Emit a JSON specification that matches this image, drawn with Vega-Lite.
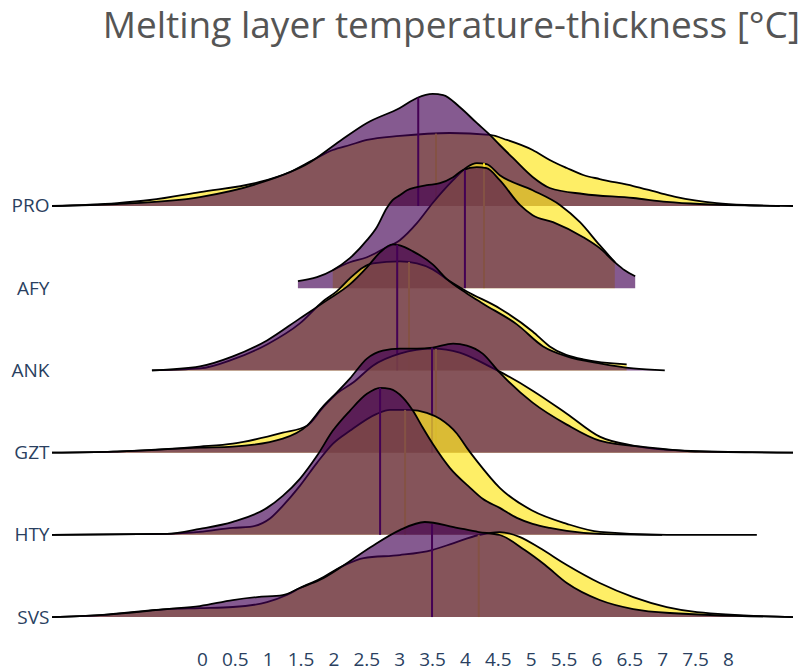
{
  "$schema": "https://vega.github.io/schema/vega-lite/v6.json",
  "width": 741,
  "height": 580,
  "autosize": {"type": "none"},
  "padding": {"left": 52, "top": 65, "right": 14, "bottom": 26},
  "background": "white",
  "title": {"text": "Melting layer temperature-thickness [°C]", "anchor": "end", "font": "Open Sans", "fontSize": 37, "fontWeight": "normal", "color": "#555555", "offset": 19, "dx": 7},
  "config": {"view": {"stroke": null}},
  "datasets": {
    "curves": [
      {"s":"PRO","g":"P","x":-2.28,"y":5},{"s":"PRO","g":"P","x":-1.29,"y":5.024},{"s":"PRO","g":"P","x":-0.03,"y":5.109},{"s":"PRO","g":"P","x":0.88,"y":5.28},{"s":"PRO","g":"P","x":1.64,"y":5.53},{"s":"PRO","g":"P","x":2.1,"y":5.791},{"s":"PRO","g":"P","x":2.51,"y":6.01},{"s":"PRO","g":"P","x":3.01,"y":6.192},{"s":"PRO","g":"P","x":3.27,"y":6.314},{"s":"PRO","g":"P","x":3.51,"y":6.363},{"s":"PRO","g":"P","x":3.67,"y":6.35},{"s":"PRO","g":"P","x":3.92,"y":6.204},{"s":"PRO","g":"P","x":4.18,"y":6.01},{"s":"PRO","g":"P","x":4.38,"y":5.864},{"s":"PRO","g":"P","x":4.53,"y":5.742},{"s":"PRO","g":"P","x":4.73,"y":5.584},{"s":"PRO","g":"P","x":5.03,"y":5.353},{"s":"PRO","g":"P","x":5.29,"y":5.219},{"s":"PRO","g":"P","x":5.8,"y":5.146},{"s":"PRO","g":"P","x":6.56,"y":5.097},{"s":"PRO","g":"P","x":7.07,"y":5.049},{"s":"PRO","g":"P","x":7.57,"y":5.024},{"s":"PRO","g":"P","x":8.99,"y":5},
      {"s":"PRO","g":"Y","x":-2.28,"y":5},{"s":"PRO","g":"Y","x":-1.29,"y":5.036},{"s":"PRO","g":"Y","x":-0.79,"y":5.073},{"s":"PRO","g":"Y","x":-0.03,"y":5.17},{"s":"PRO","g":"Y","x":0.88,"y":5.292},{"s":"PRO","g":"Y","x":1.34,"y":5.414},{"s":"PRO","g":"Y","x":1.69,"y":5.56},{"s":"PRO","g":"Y","x":1.99,"y":5.681},{"s":"PRO","g":"Y","x":2.25,"y":5.742},{"s":"PRO","g":"Y","x":2.51,"y":5.803},{"s":"PRO","g":"Y","x":3.01,"y":5.852},{"s":"PRO","g":"Y","x":3.77,"y":5.888},{"s":"PRO","g":"Y","x":4.38,"y":5.864},{"s":"PRO","g":"Y","x":4.64,"y":5.803},{"s":"PRO","g":"Y","x":5.03,"y":5.681},{"s":"PRO","g":"Y","x":5.29,"y":5.56},{"s":"PRO","g":"Y","x":5.55,"y":5.462},{"s":"PRO","g":"Y","x":5.8,"y":5.377},{"s":"PRO","g":"Y","x":6.05,"y":5.328},{"s":"PRO","g":"Y","x":6.56,"y":5.243},{"s":"PRO","g":"Y","x":6.97,"y":5.158},{"s":"PRO","g":"Y","x":7.22,"y":5.109},{"s":"PRO","g":"Y","x":7.83,"y":5.036},{"s":"PRO","g":"Y","x":8.26,"y":5.012},{"s":"PRO","g":"Y","x":8.79,"y":5},
      {"s":"AFY","g":"P","x":1.46,"y":4.085},{"s":"AFY","g":"P","x":1.75,"y":4.134},{"s":"AFY","g":"P","x":1.99,"y":4.219},{"s":"AFY","g":"P","x":2.25,"y":4.365},{"s":"AFY","g":"P","x":2.51,"y":4.584},{"s":"AFY","g":"P","x":2.66,"y":4.742},{"s":"AFY","g":"P","x":2.81,"y":4.973},{"s":"AFY","g":"P","x":2.9,"y":5.071},{"s":"AFY","g":"P","x":3.01,"y":5.131},{"s":"AFY","g":"P","x":3.12,"y":5.192},{"s":"AFY","g":"P","x":3.27,"y":5.229},{"s":"AFY","g":"P","x":3.42,"y":5.253},{"s":"AFY","g":"P","x":3.62,"y":5.277},{"s":"AFY","g":"P","x":3.82,"y":5.35},{"s":"AFY","g":"P","x":3.97,"y":5.436},{"s":"AFY","g":"P","x":4.18,"y":5.472},{"s":"AFY","g":"P","x":4.33,"y":5.46},{"s":"AFY","g":"P","x":4.53,"y":5.314},{"s":"AFY","g":"P","x":4.84,"y":5.01},{"s":"AFY","g":"P","x":5.03,"y":4.888},{"s":"AFY","g":"P","x":5.34,"y":4.803},{"s":"AFY","g":"P","x":5.8,"y":4.62},{"s":"AFY","g":"P","x":6.05,"y":4.487},{"s":"AFY","g":"P","x":6.28,"y":4.316},{"s":"AFY","g":"P","x":6.43,"y":4.219},{"s":"AFY","g":"P","x":6.59,"y":4.146},
      {"s":"AFY","g":"Y","x":1.99,"y":4.219},{"s":"AFY","g":"Y","x":2.25,"y":4.316},{"s":"AFY","g":"Y","x":2.51,"y":4.377},{"s":"AFY","g":"Y","x":2.75,"y":4.474},{"s":"AFY","g":"Y","x":3.01,"y":4.584},{"s":"AFY","g":"Y","x":3.27,"y":4.791},{"s":"AFY","g":"Y","x":3.51,"y":5.036},{"s":"AFY","g":"Y","x":3.82,"y":5.314},{"s":"AFY","g":"Y","x":4.03,"y":5.472},{"s":"AFY","g":"Y","x":4.18,"y":5.521},{"s":"AFY","g":"Y","x":4.33,"y":5.509},{"s":"AFY","g":"Y","x":4.53,"y":5.375},{"s":"AFY","g":"Y","x":5.03,"y":5.192},{"s":"AFY","g":"Y","x":5.45,"y":5.01},{"s":"AFY","g":"Y","x":5.75,"y":4.803},{"s":"AFY","g":"Y","x":6.05,"y":4.523},{"s":"AFY","g":"Y","x":6.28,"y":4.316},
      {"s":"ANK","g":"Y","x":-0.76,"y":3},{"s":"ANK","g":"Y","x":-0.03,"y":3.024},{"s":"ANK","g":"Y","x":0.47,"y":3.134},{"s":"ANK","g":"Y","x":0.99,"y":3.316},{"s":"ANK","g":"Y","x":1.49,"y":3.572},{"s":"ANK","g":"Y","x":1.84,"y":3.839},{"s":"ANK","g":"Y","x":2.05,"y":3.961},{"s":"ANK","g":"Y","x":2.25,"y":4.119},{"s":"ANK","g":"Y","x":2.45,"y":4.253},{"s":"ANK","g":"Y","x":2.6,"y":4.302},{"s":"ANK","g":"Y","x":3.01,"y":4.326},{"s":"ANK","g":"Y","x":3.27,"y":4.302},{"s":"ANK","g":"Y","x":3.51,"y":4.229},{"s":"ANK","g":"Y","x":3.73,"y":4.107},{"s":"ANK","g":"Y","x":4.03,"y":3.961},{"s":"ANK","g":"Y","x":4.53,"y":3.754},{"s":"ANK","g":"Y","x":5.03,"y":3.474},{"s":"ANK","g":"Y","x":5.29,"y":3.292},{"s":"ANK","g":"Y","x":5.8,"y":3.134},{"s":"ANK","g":"Y","x":6.46,"y":3.073},
      {"s":"ANK","g":"P","x":-0.76,"y":3},{"s":"ANK","g":"P","x":-0.03,"y":3.049},{"s":"ANK","g":"P","x":0.47,"y":3.17},{"s":"ANK","g":"P","x":0.99,"y":3.365},{"s":"ANK","g":"P","x":1.49,"y":3.633},{"s":"ANK","g":"P","x":1.9,"y":3.852},{"s":"ANK","g":"P","x":2.25,"y":4.046},{"s":"ANK","g":"P","x":2.51,"y":4.253},{"s":"ANK","g":"P","x":2.71,"y":4.436},{"s":"ANK","g":"P","x":2.9,"y":4.533},{"s":"ANK","g":"P","x":3.01,"y":4.521},{"s":"ANK","g":"P","x":3.21,"y":4.448},{"s":"ANK","g":"P","x":3.51,"y":4.29},{"s":"ANK","g":"P","x":3.73,"y":4.107},{"s":"ANK","g":"P","x":4.03,"y":3.937},{"s":"ANK","g":"P","x":4.27,"y":3.815},{"s":"ANK","g":"P","x":4.79,"y":3.56},{"s":"ANK","g":"P","x":5.19,"y":3.292},{"s":"ANK","g":"P","x":5.55,"y":3.17},{"s":"ANK","g":"P","x":6.05,"y":3.085},{"s":"ANK","g":"P","x":6.56,"y":3.024},{"s":"ANK","g":"P","x":7.04,"y":3},
      {"s":"GZT","g":"Y","x":-2.28,"y":2},{"s":"GZT","g":"Y","x":-1.35,"y":2.012},{"s":"GZT","g":"Y","x":-0.03,"y":2.073},{"s":"GZT","g":"Y","x":0.47,"y":2.109},{"s":"GZT","g":"Y","x":1.23,"y":2.243},{"s":"GZT","g":"Y","x":1.6,"y":2.328},{"s":"GZT","g":"Y","x":1.84,"y":2.547},{"s":"GZT","g":"Y","x":2.05,"y":2.718},{"s":"GZT","g":"Y","x":2.3,"y":2.852},{"s":"GZT","g":"Y","x":2.6,"y":3.058},{"s":"GZT","g":"Y","x":3.01,"y":3.204},{"s":"GZT","g":"Y","x":3.51,"y":3.265},{"s":"GZT","g":"Y","x":3.92,"y":3.217},{"s":"GZT","g":"Y","x":4.38,"y":3.046},{"s":"GZT","g":"Y","x":4.53,"y":2.985},{"s":"GZT","g":"Y","x":5.03,"y":2.754},{"s":"GZT","g":"Y","x":5.55,"y":2.474},{"s":"GZT","g":"Y","x":6.05,"y":2.195},{"s":"GZT","g":"Y","x":6.56,"y":2.085},{"s":"GZT","g":"Y","x":7.32,"y":2.024},{"s":"GZT","g":"Y","x":8.99,"y":2},
      {"s":"GZT","g":"P","x":-2.28,"y":2},{"s":"GZT","g":"P","x":-1.35,"y":2.012},{"s":"GZT","g":"P","x":-0.03,"y":2.061},{"s":"GZT","g":"P","x":0.47,"y":2.073},{"s":"GZT","g":"P","x":1.23,"y":2.17},{"s":"GZT","g":"P","x":1.6,"y":2.328},{"s":"GZT","g":"P","x":1.84,"y":2.56},{"s":"GZT","g":"P","x":2.05,"y":2.73},{"s":"GZT","g":"P","x":2.25,"y":2.9},{"s":"GZT","g":"P","x":2.51,"y":3.144},{"s":"GZT","g":"P","x":2.75,"y":3.241},{"s":"GZT","g":"P","x":3.01,"y":3.265},{"s":"GZT","g":"P","x":3.27,"y":3.265},{"s":"GZT","g":"P","x":3.51,"y":3.277},{"s":"GZT","g":"P","x":3.82,"y":3.326},{"s":"GZT","g":"P","x":4.03,"y":3.302},{"s":"GZT","g":"P","x":4.27,"y":3.204},{"s":"GZT","g":"P","x":4.53,"y":2.973},{"s":"GZT","g":"P","x":5.03,"y":2.608},{"s":"GZT","g":"P","x":5.55,"y":2.341},{"s":"GZT","g":"P","x":6.05,"y":2.146},{"s":"GZT","g":"P","x":6.81,"y":2.061},{"s":"GZT","g":"P","x":7.57,"y":2.012},{"s":"GZT","g":"P","x":8.99,"y":2},
      {"s":"HTY","g":"Y","x":-2.28,"y":1},{"s":"HTY","g":"Y","x":-0.53,"y":1.012},{"s":"HTY","g":"Y","x":-0.03,"y":1.036},{"s":"HTY","g":"Y","x":0.47,"y":1.085},{"s":"HTY","g":"Y","x":0.73,"y":1.097},{"s":"HTY","g":"Y","x":1.03,"y":1.195},{"s":"HTY","g":"Y","x":1.23,"y":1.353},{"s":"HTY","g":"Y","x":1.49,"y":1.596},{"s":"HTY","g":"Y","x":1.75,"y":1.876},{"s":"HTY","g":"Y","x":1.99,"y":2.107},{"s":"HTY","g":"Y","x":2.25,"y":2.265},{"s":"HTY","g":"Y","x":2.66,"y":2.472},{"s":"HTY","g":"Y","x":2.86,"y":2.521},{"s":"HTY","g":"Y","x":3.16,"y":2.521},{"s":"HTY","g":"Y","x":3.42,"y":2.484},{"s":"HTY","g":"Y","x":3.62,"y":2.411},{"s":"HTY","g":"Y","x":3.88,"y":2.229},{"s":"HTY","g":"Y","x":4.03,"y":2.058},{"s":"HTY","g":"Y","x":4.18,"y":1.9},{"s":"HTY","g":"Y","x":4.53,"y":1.572},{"s":"HTY","g":"Y","x":5.03,"y":1.292},{"s":"HTY","g":"Y","x":5.55,"y":1.134},{"s":"HTY","g":"Y","x":6.05,"y":1.036},{"s":"HTY","g":"Y","x":7.07,"y":1},{"s":"HTY","g":"Y","x":8.44,"y":1},
      {"s":"HTY","g":"P","x":-2.28,"y":1},{"s":"HTY","g":"P","x":-0.53,"y":1.012},{"s":"HTY","g":"P","x":-0.03,"y":1.073},{"s":"HTY","g":"P","x":0.47,"y":1.158},{"s":"HTY","g":"P","x":0.99,"y":1.328},{"s":"HTY","g":"P","x":1.23,"y":1.474},{"s":"HTY","g":"P","x":1.49,"y":1.681},{"s":"HTY","g":"P","x":1.75,"y":1.961},{"s":"HTY","g":"P","x":1.99,"y":2.265},{"s":"HTY","g":"P","x":2.25,"y":2.509},{"s":"HTY","g":"P","x":2.51,"y":2.715},{"s":"HTY","g":"P","x":2.71,"y":2.788},{"s":"HTY","g":"P","x":2.86,"y":2.776},{"s":"HTY","g":"P","x":3.06,"y":2.667},{"s":"HTY","g":"P","x":3.21,"y":2.509},{"s":"HTY","g":"P","x":3.36,"y":2.302},{"s":"HTY","g":"P","x":3.51,"y":2.107},{"s":"HTY","g":"P","x":3.77,"y":1.815},{"s":"HTY","g":"P","x":4.08,"y":1.572},{"s":"HTY","g":"P","x":4.27,"y":1.438},{"s":"HTY","g":"P","x":4.53,"y":1.328},{"s":"HTY","g":"P","x":4.79,"y":1.207},{"s":"HTY","g":"P","x":5.03,"y":1.134},{"s":"HTY","g":"P","x":5.29,"y":1.085},{"s":"HTY","g":"P","x":5.55,"y":1.049},{"s":"HTY","g":"P","x":6.05,"y":1.012},{"s":"HTY","g":"P","x":7.0,"y":1},
      {"s":"SVS","g":"Y","x":-2.28,"y":0},{"s":"SVS","g":"Y","x":-1.55,"y":0.024},{"s":"SVS","g":"Y","x":-0.53,"y":0.097},{"s":"SVS","g":"Y","x":-0.03,"y":0.109},{"s":"SVS","g":"Y","x":0.47,"y":0.122},{"s":"SVS","g":"Y","x":0.99,"y":0.182},{"s":"SVS","g":"Y","x":1.29,"y":0.268},{"s":"SVS","g":"Y","x":1.49,"y":0.353},{"s":"SVS","g":"Y","x":1.79,"y":0.462},{"s":"SVS","g":"Y","x":2.14,"y":0.62},{"s":"SVS","g":"Y","x":2.46,"y":0.718},{"s":"SVS","g":"Y","x":3.01,"y":0.754},{"s":"SVS","g":"Y","x":3.5,"y":0.815},{"s":"SVS","g":"Y","x":3.83,"y":0.9},{"s":"SVS","g":"Y","x":4.21,"y":0.998},{"s":"SVS","g":"Y","x":4.53,"y":1.034},{"s":"SVS","g":"Y","x":4.84,"y":0.973},{"s":"SVS","g":"Y","x":5.14,"y":0.839},{"s":"SVS","g":"Y","x":5.55,"y":0.633},{"s":"SVS","g":"Y","x":6.05,"y":0.414},{"s":"SVS","g":"Y","x":6.56,"y":0.243},{"s":"SVS","g":"Y","x":7.07,"y":0.122},{"s":"SVS","g":"Y","x":7.53,"y":0.061},{"s":"SVS","g":"Y","x":8.99,"y":0},
      {"s":"SVS","g":"P","x":-2.28,"y":0},{"s":"SVS","g":"P","x":-1.55,"y":0.024},{"s":"SVS","g":"P","x":-0.53,"y":0.097},{"s":"SVS","g":"P","x":-0.03,"y":0.134},{"s":"SVS","g":"P","x":0.47,"y":0.207},{"s":"SVS","g":"P","x":0.84,"y":0.243},{"s":"SVS","g":"P","x":1.23,"y":0.268},{"s":"SVS","g":"P","x":1.49,"y":0.353},{"s":"SVS","g":"P","x":1.79,"y":0.45},{"s":"SVS","g":"P","x":2.14,"y":0.62},{"s":"SVS","g":"P","x":2.57,"y":0.852},{"s":"SVS","g":"P","x":3.01,"y":1.058},{"s":"SVS","g":"P","x":3.39,"y":1.156},{"s":"SVS","g":"P","x":3.83,"y":1.095},{"s":"SVS","g":"P","x":4.21,"y":1.034},{"s":"SVS","g":"P","x":4.53,"y":0.998},{"s":"SVS","g":"P","x":4.91,"y":0.815},{"s":"SVS","g":"P","x":5.22,"y":0.633},{"s":"SVS","g":"P","x":5.55,"y":0.414},{"s":"SVS","g":"P","x":6.05,"y":0.207},{"s":"SVS","g":"P","x":6.56,"y":0.097},{"s":"SVS","g":"P","x":7.12,"y":0.049},{"s":"SVS","g":"P","x":8.99,"y":0}
    ],
    "means": [
      {"s":"PRO","g":"P","x":3.29,"y":6.32},{"s":"PRO","g":"Y","x":3.56,"y":5.88},
      {"s":"AFY","g":"P","x":4.0,"y":5.44},{"s":"AFY","g":"Y","x":4.29,"y":5.52},
      {"s":"ANK","g":"P","x":2.97,"y":4.53},{"s":"ANK","g":"Y","x":3.15,"y":4.32},
      {"s":"GZT","g":"P","x":3.5,"y":3.277},{"s":"GZT","g":"Y","x":3.56,"y":3.26},
      {"s":"HTY","g":"P","x":2.71,"y":2.79},{"s":"HTY","g":"Y","x":3.09,"y":2.52},
      {"s":"SVS","g":"P","x":3.5,"y":1.13},{"s":"SVS","g":"Y","x":4.21,"y":1.0}
    ]
  },
  "encoding": {
    "x": {"field": "x", "type": "quantitative", "scale": {"domain": [-2.28, 8.99], "nice": false, "zero": false},
      "axis": {"title": null, "values": [0,0.5,1,1.5,2,2.5,3,3.5,4,4.5,5,5.5,6,6.5,7,7.5,8], "format": "~g", "grid": false, "domain": false, "ticks": false, "labelFont": "Open Sans", "labelFontSize": 19, "labelColor": "#2a3f5f", "labelPadding": 5, "labelOverlap": false, "labelFlush": false}},
    "y": {"field": "y", "type": "quantitative", "scale": {"domain": [-0.34, 6.715], "nice": false, "zero": false},
      "axis": {"title": null, "values": [0,1,2,3,4,5], "labelExpr": "['SVS','HTY','GZT','ANK','AFY','PRO'][datum.value]", "grid": false, "domain": false, "ticks": false, "labelFont": "Open Sans", "labelFontSize": 19, "labelColor": "#2a3f5f", "labelPadding": 3, "labelBaseline": "middle"}}
  },
  "layer": [
    {"data": {"values": [{}]}, "mark": {"type": "rule", "color": "#9e9e9e", "strokeWidth": 2}, "encoding": {"x": {"datum": 0}, "y": {"datum": -0.34}, "y2": {"datum": 6.715}}},

    {"data": {"name": "curves"}, "transform": [{"filter": "datum.s=='PRO'&&datum.g=='Y'"}], "mark": {"type": "area", "fill": "#fde725", "fillOpacity": 0.7, "interpolate": "monotone", "clip": true, "line": {"color": "black", "strokeWidth": 1.8, "interpolate": "monotone"}}, "encoding": {"y2": {"datum": 5}}},
    {"data": {"name": "means"}, "transform": [{"filter": "datum.s=='PRO'&&datum.g=='Y'"}], "mark": {"type": "rule", "color": "#fde725", "strokeWidth": 2}, "encoding": {"y2": {"datum": 5}}},
    {"data": {"name": "curves"}, "transform": [{"filter": "datum.s=='PRO'&&datum.g=='P'"}], "mark": {"type": "area", "fill": "#440154", "fillOpacity": 0.65, "interpolate": "monotone", "clip": true, "line": {"color": "black", "strokeWidth": 1.8, "interpolate": "monotone"}}, "encoding": {"y2": {"datum": 5}}},
    {"data": {"name": "means"}, "transform": [{"filter": "datum.s=='PRO'&&datum.g=='P'"}], "mark": {"type": "rule", "color": "#440154", "strokeWidth": 2}, "encoding": {"y2": {"datum": 5}}},

    {"data": {"name": "curves"}, "transform": [{"filter": "datum.s=='AFY'&&datum.g=='Y'"}], "mark": {"type": "area", "fill": "#fde725", "fillOpacity": 0.7, "interpolate": "monotone", "clip": true, "line": {"color": "black", "strokeWidth": 1.8, "interpolate": "monotone"}}, "encoding": {"y2": {"datum": 4}}},
    {"data": {"name": "means"}, "transform": [{"filter": "datum.s=='AFY'&&datum.g=='Y'"}], "mark": {"type": "rule", "color": "#fde725", "strokeWidth": 2}, "encoding": {"y2": {"datum": 4}}},
    {"data": {"name": "curves"}, "transform": [{"filter": "datum.s=='AFY'&&datum.g=='P'"}], "mark": {"type": "area", "fill": "#440154", "fillOpacity": 0.65, "interpolate": "monotone", "clip": true, "line": {"color": "black", "strokeWidth": 1.8, "interpolate": "monotone"}}, "encoding": {"y2": {"datum": 4}}},
    {"data": {"name": "means"}, "transform": [{"filter": "datum.s=='AFY'&&datum.g=='P'"}], "mark": {"type": "rule", "color": "#440154", "strokeWidth": 2}, "encoding": {"y2": {"datum": 4}}},

    {"data": {"name": "curves"}, "transform": [{"filter": "datum.s=='ANK'&&datum.g=='Y'"}], "mark": {"type": "area", "fill": "#fde725", "fillOpacity": 0.7, "interpolate": "monotone", "clip": true, "line": {"color": "black", "strokeWidth": 1.8, "interpolate": "monotone"}}, "encoding": {"y2": {"datum": 3}}},
    {"data": {"name": "means"}, "transform": [{"filter": "datum.s=='ANK'&&datum.g=='Y'"}], "mark": {"type": "rule", "color": "#fde725", "strokeWidth": 2}, "encoding": {"y2": {"datum": 3}}},
    {"data": {"name": "curves"}, "transform": [{"filter": "datum.s=='ANK'&&datum.g=='P'"}], "mark": {"type": "area", "fill": "#440154", "fillOpacity": 0.65, "interpolate": "monotone", "clip": true, "line": {"color": "black", "strokeWidth": 1.8, "interpolate": "monotone"}}, "encoding": {"y2": {"datum": 3}}},
    {"data": {"name": "means"}, "transform": [{"filter": "datum.s=='ANK'&&datum.g=='P'"}], "mark": {"type": "rule", "color": "#440154", "strokeWidth": 2}, "encoding": {"y2": {"datum": 3}}},

    {"data": {"name": "curves"}, "transform": [{"filter": "datum.s=='GZT'&&datum.g=='Y'"}], "mark": {"type": "area", "fill": "#fde725", "fillOpacity": 0.7, "interpolate": "monotone", "clip": true, "line": {"color": "black", "strokeWidth": 1.8, "interpolate": "monotone"}}, "encoding": {"y2": {"datum": 2}}},
    {"data": {"name": "means"}, "transform": [{"filter": "datum.s=='GZT'&&datum.g=='Y'"}], "mark": {"type": "rule", "color": "#fde725", "strokeWidth": 2}, "encoding": {"y2": {"datum": 2}}},
    {"data": {"name": "curves"}, "transform": [{"filter": "datum.s=='GZT'&&datum.g=='P'"}], "mark": {"type": "area", "fill": "#440154", "fillOpacity": 0.65, "interpolate": "monotone", "clip": true, "line": {"color": "black", "strokeWidth": 1.8, "interpolate": "monotone"}}, "encoding": {"y2": {"datum": 2}}},
    {"data": {"name": "means"}, "transform": [{"filter": "datum.s=='GZT'&&datum.g=='P'"}], "mark": {"type": "rule", "color": "#440154", "strokeWidth": 2}, "encoding": {"y2": {"datum": 2}}},

    {"data": {"name": "curves"}, "transform": [{"filter": "datum.s=='HTY'&&datum.g=='Y'"}], "mark": {"type": "area", "fill": "#fde725", "fillOpacity": 0.7, "interpolate": "monotone", "clip": true, "line": {"color": "black", "strokeWidth": 1.8, "interpolate": "monotone"}}, "encoding": {"y2": {"datum": 1}}},
    {"data": {"name": "means"}, "transform": [{"filter": "datum.s=='HTY'&&datum.g=='Y'"}], "mark": {"type": "rule", "color": "#fde725", "strokeWidth": 2}, "encoding": {"y2": {"datum": 1}}},
    {"data": {"name": "curves"}, "transform": [{"filter": "datum.s=='HTY'&&datum.g=='P'"}], "mark": {"type": "area", "fill": "#440154", "fillOpacity": 0.65, "interpolate": "monotone", "clip": true, "line": {"color": "black", "strokeWidth": 1.8, "interpolate": "monotone"}}, "encoding": {"y2": {"datum": 1}}},
    {"data": {"name": "means"}, "transform": [{"filter": "datum.s=='HTY'&&datum.g=='P'"}], "mark": {"type": "rule", "color": "#440154", "strokeWidth": 2}, "encoding": {"y2": {"datum": 1}}},

    {"data": {"name": "curves"}, "transform": [{"filter": "datum.s=='SVS'&&datum.g=='Y'"}], "mark": {"type": "area", "fill": "#fde725", "fillOpacity": 0.7, "interpolate": "monotone", "clip": true, "line": {"color": "black", "strokeWidth": 1.8, "interpolate": "monotone"}}, "encoding": {"y2": {"datum": 0}}},
    {"data": {"name": "means"}, "transform": [{"filter": "datum.s=='SVS'&&datum.g=='Y'"}], "mark": {"type": "rule", "color": "#fde725", "strokeWidth": 2}, "encoding": {"y2": {"datum": 0}}},
    {"data": {"name": "curves"}, "transform": [{"filter": "datum.s=='SVS'&&datum.g=='P'"}], "mark": {"type": "area", "fill": "#440154", "fillOpacity": 0.65, "interpolate": "monotone", "clip": true, "line": {"color": "black", "strokeWidth": 1.8, "interpolate": "monotone"}}, "encoding": {"y2": {"datum": 0}}},
    {"data": {"name": "means"}, "transform": [{"filter": "datum.s=='SVS'&&datum.g=='P'"}], "mark": {"type": "rule", "color": "#440154", "strokeWidth": 2}, "encoding": {"y2": {"datum": 0}}}
  ]
}
